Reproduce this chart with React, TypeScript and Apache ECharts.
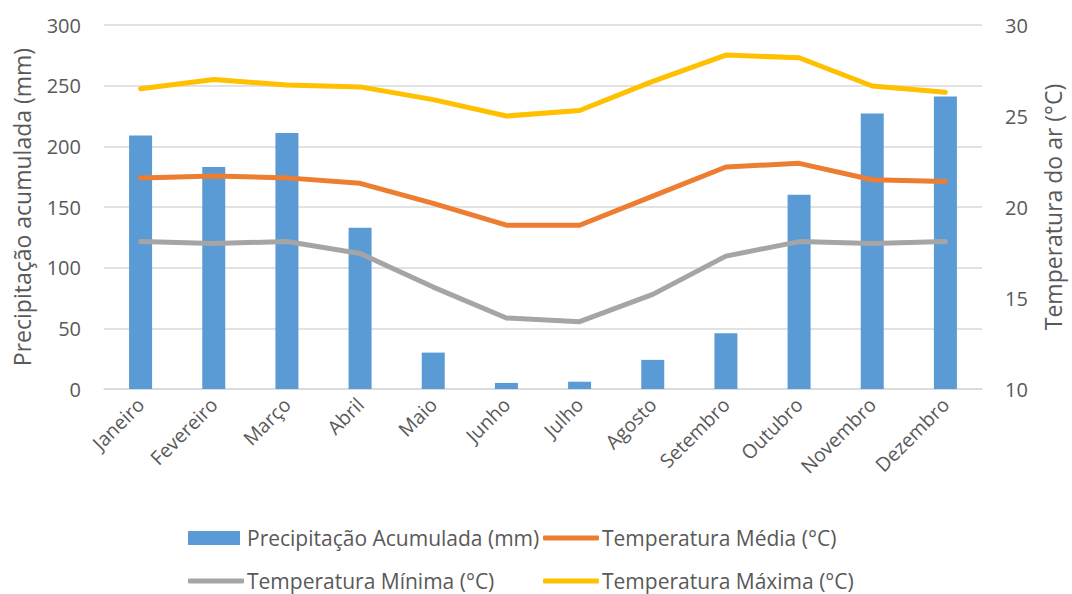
import React, { useEffect, useRef } from "react";
import * as echarts from "echarts";

const months = [
  "Janeiro", "Fevereiro", "Março", "Abril", "Maio", "Junho",
  "Julho", "Agosto", "Setembro", "Outubro", "Novembro", "Dezembro",
];
const precipitacao = [209, 183, 211, 133, 30, 5, 6, 24, 46, 160, 227, 241];
const tempMedia = [21.6, 21.7, 21.6, 21.3, 20.2, 19.0, 19.0, 20.6, 22.2, 22.4, 21.5, 21.4];
const tempMinima = [18.1, 18.0, 18.1, 17.45, 15.6, 13.9, 13.7, 15.2, 17.3, 18.1, 18.0, 18.1];
const tempMaxima = [26.5, 27.0, 26.7, 26.6, 25.9, 25.0, 25.3, 26.9, 28.35, 28.2, 26.65, 26.3];

const NAME_PREC = "Precipitação Acumulada (mm)";
const NAME_MED = "Temperatura Média (°C)";
const NAME_MIN = "Temperatura Mínima (°C)";
const NAME_MAX = "Temperatura Máxima (°C)";

const FONT = "Open Sans";
const TEXT = "#595959";
const GRID_LINE = "#d9d9d9";

export default function App() {
  const ref = useRef<HTMLDivElement>(null);

  useEffect(() => {
    if (!ref.current) return;
    const chart = echarts.init(ref.current, undefined, { renderer: "svg" });

    const legendText = (padLeft: number) => ({
      fontFamily: FONT,
      fontSize: 21,
      lineHeight: 24,
      color: TEXT,
      padding: [0, 0, 0, padLeft],
    });

    const legendItem = (name: string, left: number, top: number, isBar: boolean) => ({
      orient: "horizontal" as const,
      left,
      top,
      padding: 0,
      itemGap: 0,
      selectedMode: false,
      data: [name],
      icon: isBar ? "rect" : "roundRect",
      itemWidth: isBar ? 52 : 56,
      itemHeight: isBar ? 14 : 5,
      textStyle: legendText(isBar ? 2 : -2),
    });

    const lineSeries = (name: string, data: number[], color: string) => ({
      name,
      type: "line",
      yAxisIndex: 1,
      data,
      symbol: "none",
      lineStyle: { color, width: 5, cap: "round", join: "round" },
      itemStyle: { color },
    });

    const axisName = { fontFamily: FONT, fontSize: 23, color: TEXT };
    const tickLabel = { fontFamily: FONT, fontSize: 20, color: TEXT, margin: 23 };

    chart.setOption({
      animation: false,
      textStyle: { fontFamily: FONT },
      grid: { left: 104, right: 87, top: 25, bottom: 205 },
      legend: [
        legendItem(NAME_PREC, 188, 526, true),
        legendItem(NAME_MED, 543, 526, false),
        legendItem(NAME_MIN, 188, 569, false),
        legendItem(NAME_MAX, 543, 569, false),
      ],
      xAxis: {
        type: "category",
        data: months,
        axisTick: { show: false },
        axisLine: { show: true, lineStyle: { color: GRID_LINE, width: 1.5 } },
        axisLabel: {
          rotate: 45,
          interval: 0,
          margin: 12,
          fontFamily: FONT,
          fontSize: 19.5,
          color: TEXT,
        },
      },
      yAxis: [
        {
          type: "value",
          min: 0,
          max: 300,
          interval: 50,
          name: "Precipitação acumulada (mm)",
          nameLocation: "middle",
          nameGap: 71,
          nameRotate: 90,
          nameTextStyle: axisName,
          axisLine: { show: false },
          axisTick: { show: false },
          axisLabel: tickLabel,
          splitLine: { lineStyle: { color: GRID_LINE, width: 1.5 } },
        },
        {
          type: "value",
          min: 10,
          max: 30,
          interval: 5,
          name: "Temperatura do ar (°C)",
          nameLocation: "middle",
          nameGap: 59,
          nameRotate: 90,
          nameTextStyle: axisName,
          axisLine: { show: false },
          axisTick: { show: false },
          axisLabel: tickLabel,
          splitLine: { show: false },
        },
      ],
      series: [
        {
          name: NAME_PREC,
          type: "bar",
          data: precipitacao,
          barWidth: 23,
          itemStyle: { color: "#5B9BD5" },
        },
        lineSeries(NAME_MED, tempMedia, "#ED7D31"),
        lineSeries(NAME_MIN, tempMinima, "#A5A5A5"),
        lineSeries(NAME_MAX, tempMaxima, "#FFC000"),
      ],
    });

    return () => chart.dispose();
  }, []);

  return <div ref={ref} style={{ width: 1072, height: 594, position: "absolute", left: 0, top: 0 }} />;
}
